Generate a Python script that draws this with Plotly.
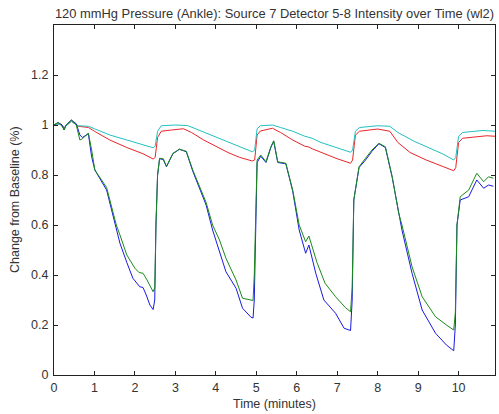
import plotly.graph_objects as go

# ---- data ----
red_t = [0, 0.15, 0.25, 0.43, 0.6, 0.85, 1.0, 1.38, 1.8, 2.2, 2.45, 2.5, 2.56, 2.65, 2.9, 3.2, 3.4, 3.7, 4.0, 4.3,
         4.58, 4.9, 4.96, 5.02, 5.1, 5.4, 5.6, 5.9, 6.2, 6.3, 6.38, 6.6, 7.0, 7.33, 7.38, 7.45, 7.55, 8.0, 8.3, 8.5,
         8.8, 9.2, 9.5, 9.88, 9.93, 10.0, 10.1, 10.4, 10.7, 10.9]
red_v = [1.0, 1.005, 0.99, 1.015, 0.995, 0.99, 0.975, 0.94, 0.91, 0.885, 0.864, 0.87, 0.95, 0.975, 0.98, 0.985, 0.97,
         0.94, 0.915, 0.89, 0.871, 0.856, 0.86, 0.96, 0.976, 0.987, 0.97, 0.94, 0.915, 0.912, 0.905, 0.89, 0.865, 0.847,
         0.86, 0.96, 0.975, 0.984, 0.975, 0.93, 0.89, 0.86, 0.84, 0.817, 0.83, 0.93, 0.947, 0.952, 0.957, 0.955]

cyan_t = [0, 0.15, 0.25, 0.43, 0.6, 0.85, 1.0, 1.38, 1.8, 2.2, 2.45, 2.5, 2.56, 2.65, 3.0, 3.3, 3.5, 3.8, 4.2, 4.58,
          4.9, 4.96, 5.02, 5.1, 5.4, 5.6, 5.9, 6.2, 6.3, 6.38, 6.6, 7.0, 7.33, 7.38, 7.45, 7.55, 8.0, 8.3, 8.5, 8.9,
          9.3, 9.6, 9.88, 9.93, 10.0, 10.1, 10.4, 10.6, 10.9]
cyan_v = [1.0, 1.005, 0.99, 1.015, 0.997, 0.995, 0.985, 0.96, 0.94, 0.92, 0.909, 0.915, 0.975, 0.997, 1.0, 0.998,
          0.985, 0.965, 0.94, 0.913, 0.893, 0.9, 0.985, 0.997, 1.0, 0.99, 0.975, 0.955, 0.952, 0.947, 0.93, 0.91, 0.891,
          0.9, 0.975, 0.99, 0.997, 0.995, 0.97, 0.935, 0.905, 0.885, 0.86, 0.87, 0.955, 0.97, 0.975, 0.978, 0.975]

blue_t = [0, 0.1, 0.2, 0.25, 0.3, 0.43, 0.55, 0.64, 0.7, 0.85, 0.93, 1.01, 1.3, 1.54, 1.63, 1.8, 1.95, 2.12, 2.2,
          2.28, 2.37, 2.45, 2.49, 2.52, 2.56, 2.61, 2.7, 2.78, 2.94, 3.1, 3.27, 3.43, 3.76, 3.92, 4.09, 4.25, 4.5,
          4.66, 4.87, 4.92, 4.95, 4.99, 5.02, 5.11, 5.24, 5.36, 5.43, 5.53, 5.73, 5.9, 6.06, 6.22, 6.3, 6.47, 6.67,
          6.96, 7.17, 7.33, 7.37, 7.41, 7.54, 7.7, 7.86, 8.03, 8.19, 8.36, 8.52, 8.6, 8.85, 9.1, 9.43, 9.7, 9.88,
          9.92, 9.96, 10.04, 10.25, 10.45, 10.62, 10.74, 10.86]
blue_v = [1.0, 1.01, 1.0, 0.98, 1.0, 1.02, 1.005, 0.96, 0.95, 0.965, 0.873, 0.82, 0.74, 0.58, 0.527, 0.45, 0.387,
          0.353, 0.35, 0.32, 0.28, 0.262, 0.3, 0.6, 0.8, 0.865, 0.862, 0.833, 0.885, 0.903, 0.893, 0.815, 0.68, 0.58,
          0.493, 0.413, 0.347, 0.267, 0.231, 0.228, 0.3, 0.7, 0.85, 0.875, 0.85, 0.91, 0.935, 0.85, 0.845, 0.735,
          0.58, 0.487, 0.52, 0.407, 0.3, 0.247, 0.187, 0.178, 0.3, 0.7, 0.83, 0.86, 0.895, 0.925, 0.91, 0.79, 0.64,
          0.58, 0.407, 0.26, 0.167, 0.12, 0.097, 0.2, 0.6, 0.7, 0.713, 0.78, 0.747, 0.76, 0.755]

green_t = [0, 0.1, 0.2, 0.25, 0.3, 0.43, 0.55, 0.64, 0.7, 0.85, 0.93, 1.01, 1.3, 1.54, 1.63, 1.8, 2.0, 2.1, 2.2,
           2.3, 2.45, 2.49, 2.52, 2.56, 2.61, 2.7, 2.78, 2.94, 3.1, 3.27, 3.43, 3.76, 3.92, 4.09, 4.25, 4.5, 4.66,
           4.87, 4.92, 4.95, 4.99, 5.02, 5.11, 5.24, 5.36, 5.43, 5.53, 5.73, 5.9, 6.06, 6.22, 6.3, 6.5, 6.7, 6.96,
           7.2, 7.33, 7.37, 7.41, 7.54, 7.7, 7.86, 8.03, 8.19, 8.36, 8.52, 8.6, 8.85, 9.1, 9.43, 9.7, 9.88, 9.92,
           9.96, 10.04, 10.25, 10.45, 10.62, 10.74, 10.86]
green_v = [1.0, 1.01, 0.995, 0.98, 1.0, 1.02, 1.0, 0.94, 0.945, 0.967, 0.9, 0.82, 0.75, 0.6, 0.56, 0.48, 0.427,
           0.41, 0.407, 0.38, 0.333, 0.35, 0.6, 0.8, 0.867, 0.865, 0.835, 0.887, 0.903, 0.895, 0.82, 0.69, 0.6, 0.54,
           0.467, 0.38, 0.307, 0.3, 0.298, 0.4, 0.7, 0.86, 0.88, 0.853, 0.913, 0.937, 0.853, 0.847, 0.74, 0.6, 0.533,
           0.556, 0.45, 0.367, 0.313, 0.27, 0.253, 0.35, 0.7, 0.833, 0.867, 0.9, 0.927, 0.913, 0.793, 0.647, 0.6,
           0.433, 0.313, 0.233, 0.2, 0.18, 0.25, 0.6, 0.713, 0.74, 0.807, 0.773, 0.793, 0.787]

x_ticks = [0, 1, 2, 3, 4, 5, 6, 7, 8, 9, 10]
y_ticks = [0, 0.2, 0.4, 0.6, 0.8, 1.0, 1.2]
y_tick_text = ["0", "0.2", "0.4", "0.6", "0.8", "1", "1.2"]

title = "120 mmHg Pressure (Ankle): Source 7 Detector 5-8 Intensity over Time (wl2)"
x_title = "Time (minutes)"
y_title = "Change from Baseline (%)"

FONT = "Liberation Sans, Arial, sans-serif"
TXT = "#333"

fig = go.Figure()
for t, v, c in [(red_t, red_v, "#e8262a"), (cyan_t, cyan_v, "#22c0c0"),
                (blue_t, blue_v, "#1a1ae0"), (green_t, green_v, "#1a8a1a")]:
    fig.add_trace(go.Scatter(x=t, y=v, mode="lines", line=dict(color=c, width=1), showlegend=False,
                             hoverinfo="skip"))

axis_common = dict(showline=True, linecolor="#222", linewidth=1, mirror="ticks", ticks="inside",
                   ticklen=4, tickcolor="#222", showgrid=False, zeroline=False, automargin=False,
                   tickfont=dict(family=FONT, size=12.5, color=TXT))

fig.update_layout(
    template="none",
    width=499, height=414,
    margin=dict(l=54, r=4, t=25, b=39, pad=0, autoexpand=False),
    paper_bgcolor="white", plot_bgcolor="white",
    title=dict(text=title, x=0.5, xref="paper", xanchor="center", y=1 - 13 / 414, yanchor="middle",
               yref="container", font=dict(family=FONT, size=12.9, color=TXT)),
    xaxis=dict(range=[0, 10.9], tickvals=x_ticks, ticklabelstandoff=1, **axis_common),
    yaxis=dict(range=[0, 1.4], tickvals=y_ticks, ticktext=y_tick_text, ticklabelstandoff=2,
               **axis_common),
    annotations=[
        dict(text=x_title, xref="paper", yref="paper", x=0.5, y=0, yshift=-29, xanchor="center",
             yanchor="middle", showarrow=False, font=dict(family=FONT, size=12.5, color=TXT)),
        dict(text=y_title, xref="paper", yref="paper", x=0, y=0.5, xshift=-39, xanchor="center",
             yanchor="middle", textangle=-90, showarrow=False, font=dict(family=FONT, size=12.5, color=TXT)),
    ],
)

# the page's default 8px body margin would shift the figure; remove it
fig.write_html("out.html", config={"displayModeBar": False},
               post_script="document.body.style.margin='0';")
